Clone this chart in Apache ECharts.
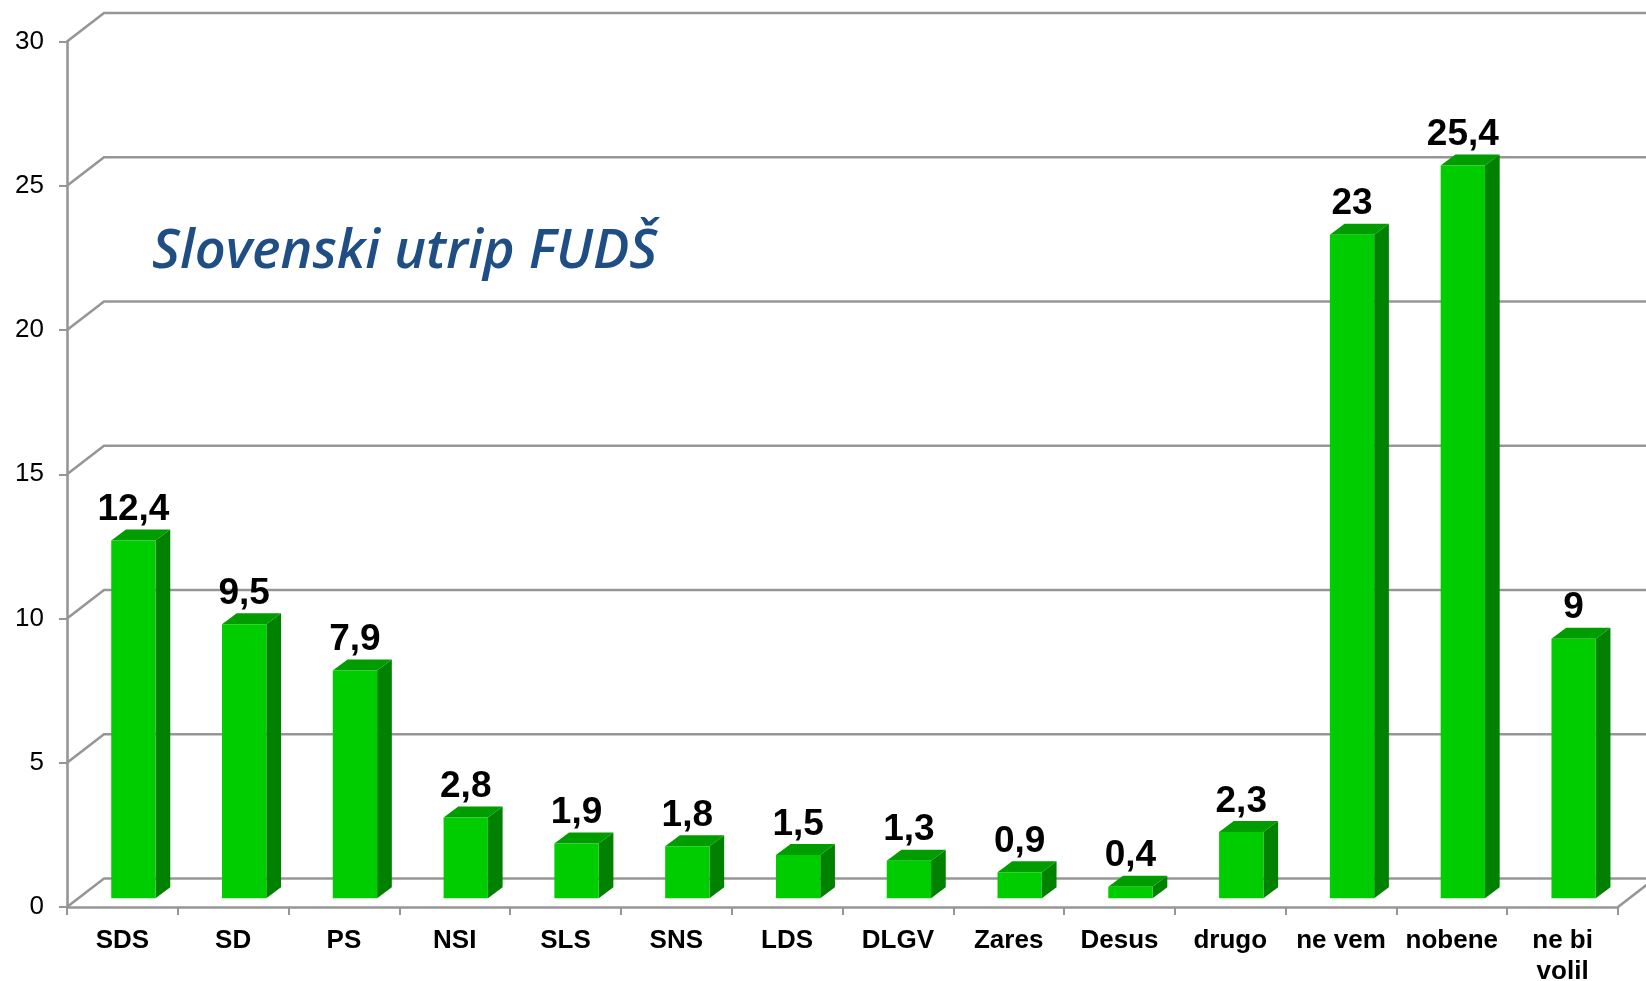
<!DOCTYPE html>
<html>
<head>
<meta charset="utf-8">
<title>Slovenski utrip FUDŠ</title>
<script src="https://cdn.jsdelivr.net/npm/echarts@6/dist/echarts.min.js"></script>
<style>
  html, body { margin: 0; padding: 0; background: #fff; }
  #chart { width: 1646px; height: 981px; }
</style>
</head>
<body>
<div id="chart"></div>
<script>
const categories = ["SDS", "SD", "PS", "NSI", "SLS", "SNS", "LDS", "DLGV", "Zares", "Desus", "drugo", "ne vem", "nobene", "ne bi\nvolil"];
const values = [12.4, 9.5, 7.9, 2.8, 1.9, 1.8, 1.5, 1.3, 0.9, 0.4, 2.3, 23, 25.4, 9];
const yTicks = [0, 5, 10, 15, 20, 25, 30];
const chartTitle = "Slovenski utrip FUDŠ";

const gridColor = "#969696";
// fake 3d: how far the back wall and the bar plane sit from the axis plane
const wallDx = 37, wallDy = -28.5;
const barDx = 11, barDy = -8.7;
const depthDx = 14.7, depthDy = -11;

const myChart = echarts.init(document.getElementById("chart"));

const renderWall = (params, api) => {
  const v = api.value(1);
  const pt = api.coord([0, v]);
  const band = api.size([1, 0])[0];
  const left = pt[0] - band / 2;
  const right = left + band * categories.length;
  const children = [{
    type: "polyline",
    shape: { points: [[left, pt[1]], [left + wallDx, pt[1] + wallDy], [right + wallDx, pt[1] + wallDy]] },
    style: { stroke: gridColor, lineWidth: 2.6, fill: null },
  }];
  if (v === 0) {
    children.push({
      type: "line",
      shape: { x1: right, y1: pt[1], x2: right + wallDx, y2: pt[1] + wallDy },
      style: { stroke: gridColor, lineWidth: 2.6 },
    });
  }
  return { type: "group", children };
};

const renderBar = (params, api) => {
  const v = api.value(1);
  const top = api.coord([api.value(0), v]);
  const base = api.coord([api.value(0), 0]);
  const w = api.size([1, 0])[0] * 0.4;
  const x0 = top[0] + barDx - w / 2;
  const x1 = x0 + w;
  const yTop = top[1] + barDy;
  const yBase = base[1] + barDy;
  return {
    type: "group",
    children: [
      {
        type: "polygon",
        shape: { points: [[x1, yTop], [x1 + depthDx, yTop + depthDy], [x1 + depthDx, yBase + depthDy], [x1, yBase]] },
        style: { fill: "#008200" },
      },
      {
        type: "polygon",
        shape: { points: [[x0, yTop], [x0 + depthDx, yTop + depthDy], [x1 + depthDx, yTop + depthDy], [x1, yTop]] },
        style: { fill: "#009c00" },
      },
      {
        type: "rect",
        shape: { x: x0, y: yTop, width: w, height: yBase - yTop },
        style: { fill: "#00cd00" },
      },
      {
        type: "text",
        style: {
          text: String(v).replace(".", ","),
          x: x0 + w / 2,
          y: yTop - 12,
          align: "center",
          verticalAlign: "bottom",
          fill: "#000",
          font: 'bold 37px "Liberation Sans", Arial, sans-serif',
        },
      },
    ],
  };
};

const option = {
  animation: false,
  backgroundColor: "#fff",
  title: {
    text: chartTitle,
    left: 147,
    top: 221,
    textStyle: {
      color: "#1f4e85",
      fontFamily: "Open Sans",
      fontStyle: "italic",
      fontWeight: 600,
      fontSize: 54,
    },
  },
  grid: { left: 67, top: 41.5, width: 1551, height: 865.5, outerBoundsMode: "none" },
  xAxis: {
    type: "category",
    data: categories,
    boundaryGap: true,
    axisLine: { show: true, lineStyle: { color: gridColor, width: 2.6 } },
    axisTick: { show: true, length: 8, lineStyle: { color: gridColor, width: 2 } },
    axisLabel: {
      interval: 0,
      margin: 18,
      color: "#000",
      fontFamily: "Liberation Sans",
      fontWeight: "bold",
      fontSize: 26,
      lineHeight: 31,
    },
  },
  yAxis: {
    type: "value",
    min: 0,
    max: 30,
    interval: 5,
    axisLine: { show: true, lineStyle: { color: gridColor, width: 2.6 } },
    axisTick: { show: true, length: 8, lineStyle: { color: gridColor, width: 2 } },
    axisLabel: { margin: 23, padding: [3, 0, 0, 0], color: "#000", fontFamily: "Liberation Sans", fontSize: 26 },
    splitLine: { show: false },
  },
  series: [
    {
      type: "custom",
      silent: true,
      z: 1,
      clip: false,
      renderItem: renderWall,
      data: yTicks.map((t) => [0, t]),
    },
    {
      type: "custom",
      z: 3,
      clip: false,
      renderItem: renderBar,
      data: values.map((v, i) => [i, v]),
    },
  ],
};
myChart.setOption(option);
</script>
</body>
</html>
